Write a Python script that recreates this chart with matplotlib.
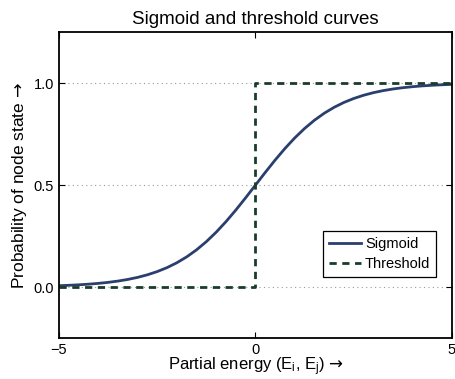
import matplotlib
matplotlib.use('Agg')
import matplotlib.pyplot as plt

plt.rcParams['font.family'] = ['Liberation Sans', 'DejaVu Sans']
plt.rcParams['mathtext.fontset'] = 'custom'
plt.rcParams['mathtext.rm'] = 'Liberation Sans'
plt.rcParams['mathtext.it'] = 'Liberation Sans'
plt.rcParams['mathtext.sf'] = 'DejaVu Sans'
plt.rcParams['mathtext.default'] = 'regular'

# sigmoid curve at 0.25 steps
sig_x = [-5.0, -4.75, -4.5, -4.25, -4.0, -3.75, -3.5, -3.25, -3.0, -2.75,
         -2.5, -2.25, -2.0, -1.75, -1.5, -1.25, -1.0, -0.75, -0.5, -0.25,
         0.0, 0.25, 0.5, 0.75, 1.0, 1.25, 1.5, 1.75, 2.0, 2.25,
         2.5, 2.75, 3.0, 3.25, 3.5, 3.75, 4.0, 4.25, 4.5, 4.75, 5.0]
sig_y = [0.0067, 0.0086, 0.0110, 0.0141, 0.0180, 0.0230, 0.0293, 0.0373, 0.0474, 0.0601,
         0.0759, 0.0953, 0.1192, 0.1480, 0.1824, 0.2227, 0.2689, 0.3208, 0.3775, 0.4378,
         0.5000, 0.5622, 0.6225, 0.6792, 0.7311, 0.7773, 0.8176, 0.8520, 0.8808, 0.9047,
         0.9241, 0.9399, 0.9526, 0.9627, 0.9707, 0.9770, 0.9820, 0.9859, 0.9890, 0.9914, 0.9933]

# threshold step
thr_x = [-5, 0, 0, 5]
thr_y = [0, 0, 1, 1]

xticks = [-5, 0, 5]
yticks = [0.0, 0.5, 1.0]

fig = plt.figure(figsize=(4.56, 3.79), dpi=100)
ax = fig.add_axes([0.1294, 0.108, 0.8618, 0.8076])

ax.plot(sig_x, sig_y, color='#2b3f6e', lw=2.0, label='Sigmoid')
ax.plot(thr_x, thr_y, color='#1a3d2a', lw=2.0, ls=(0, (2.6, 2.0)), label='Threshold')

ax.set_xlim(-5, 5)
ax.set_ylim(-0.25, 1.25)
ax.set_xticks(xticks)
ax.set_xticklabels(['\u22125', '0', '5'])
ax.set_yticks(yticks)
ax.set_yticklabels(['0.0', '0.5', '1.0'])
ax.yaxis.grid(True, ls=(0, (1, 3)), color='#999999', lw=0.8)
ax.tick_params(direction='in', top=True, right=True, labelsize=10.5, length=4, width=0.8)
for s in ax.spines.values():
    s.set_linewidth(1.3)

ax.set_title('Sigmoid and threshold curves', fontsize=13.5, pad=6)
ax.set_xlabel('Partial energy ($E_i$, $E_j$) $\\mathsf{\u2192}$', fontsize=12, labelpad=-1)
ax.set_ylabel('Probability of node state $\\mathsf{\u2192}$', fontsize=12.5, labelpad=3)

leg = ax.legend(loc='lower right', bbox_to_anchor=(0.96, 0.2), borderaxespad=0,
                fontsize=10.5, fancybox=False, framealpha=1, edgecolor='black',
                handlelength=2.2, handletextpad=0.3, borderpad=0.4, labelspacing=0.4)
leg.get_frame().set_linewidth(0.9)

fig.savefig('out.png', dpi=100)
